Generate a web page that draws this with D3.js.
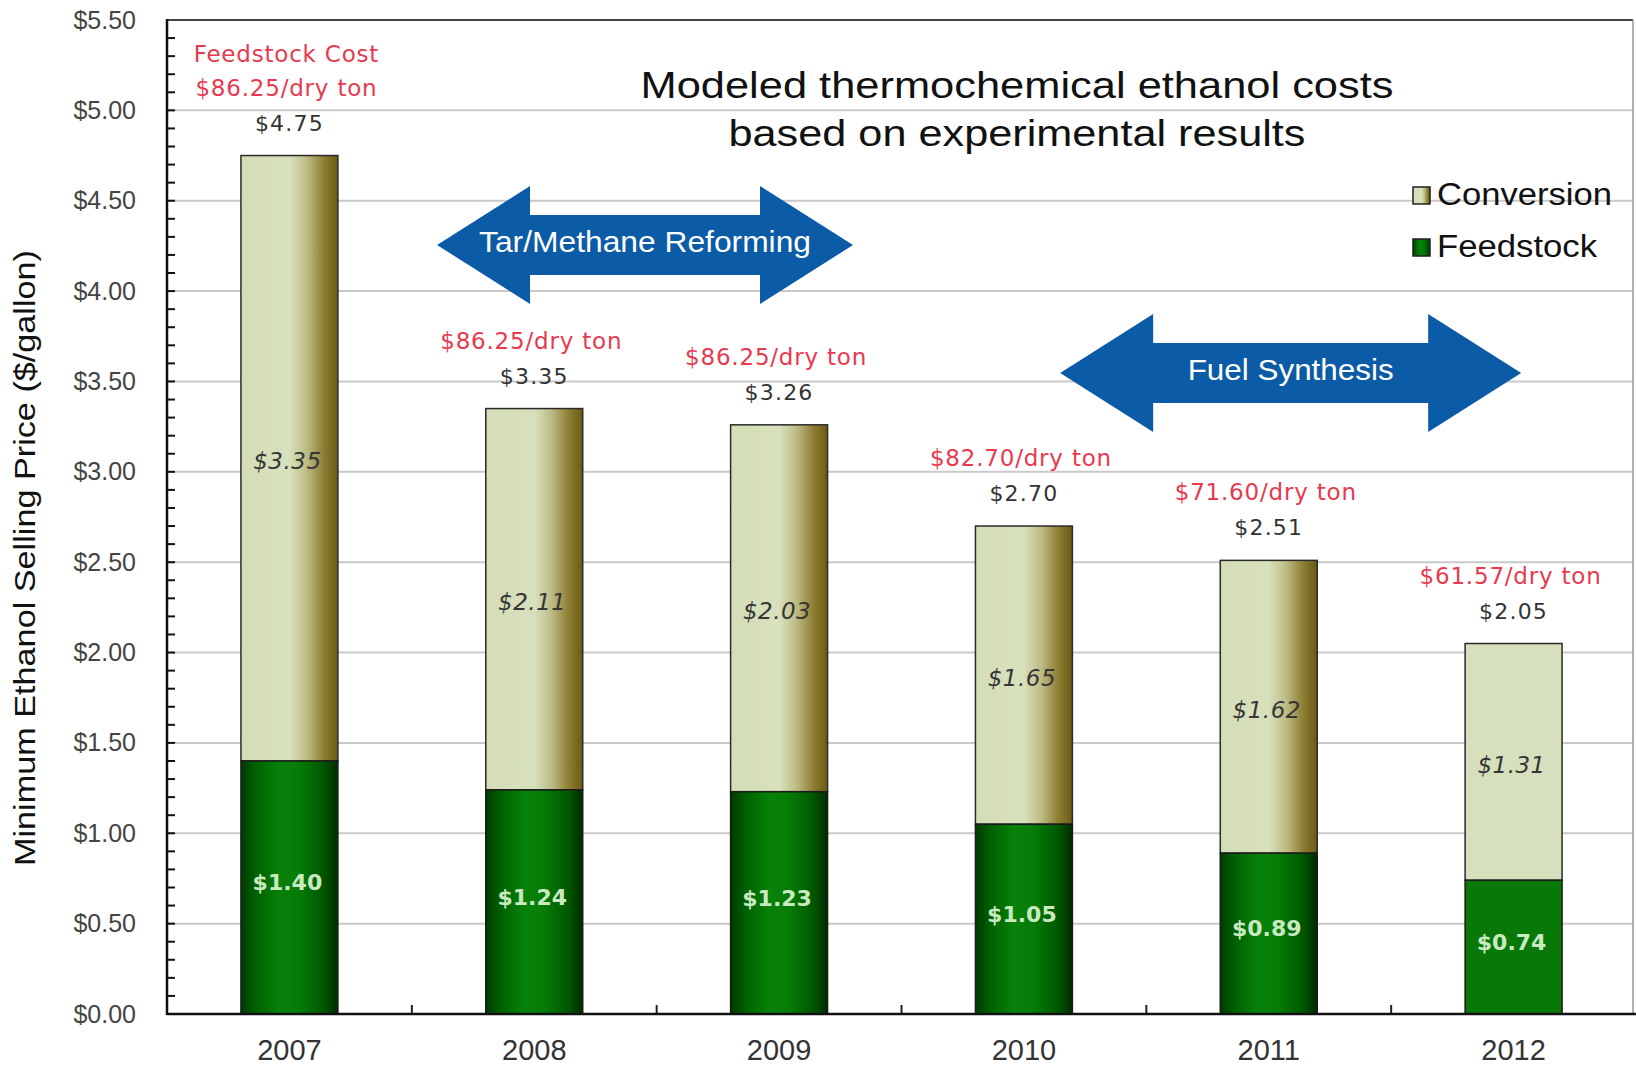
<!DOCTYPE html>
<html>
<head>
<meta charset="utf-8">
<script src="https://cdn.jsdelivr.net/npm/d3@7"></script>
<style>
	html, body { margin: 0; padding: 0; background: #ffffff; }
	svg { display: block; }
</style>
</head>
<body>
<svg id="chart"></svg>
<script>
// chart data
var years = ["2007", "2008", "2009", "2010", "2011", "2012"];
var feedstock = [1.40, 1.24, 1.23, 1.05, 0.89, 0.74];
var conversion = [3.35, 2.11, 2.03, 1.65, 1.62, 1.31];
var totals = [4.75, 3.35, 3.26, 2.70, 2.51, 2.05];
var feedCostLabels = [
	["Feedstock Cost", "$86.25/dry ton"],
	["$86.25/dry ton"],
	["$86.25/dry ton"],
	["$82.70/dry ton"],
	["$71.60/dry ton"],
	["$61.57/dry ton"]
];
var yTicks = [0, 0.5, 1.0, 1.5, 2.0, 2.5, 3.0, 3.5, 4.0, 4.5, 5.0, 5.5];
var seriesNames = ["Conversion", "Feedstock"];
var phaseNames = ["Tar/Methane Reforming", "Fuel Synthesis"];
var titleLines = ["Modeled thermochemical ethanol costs", "based on experimental results"];

/**
 * ethanol cost chart
 */
var costChartObj = {

	svg : null,
	x : null,
	xPos : null,
	y : null,

	layout : {
		width : 1636,
		height : 1065,
		left : 167,
		right : 1636,
		top : 20,
		bottom : 1014
	},

	init : function(id) {
		var that = this;
		var l = that.layout;

		that.svg = d3.select(id).attr("width", l.width).attr("height", l.height);
		that.x = d3.scaleBand().domain(years).range([l.left, l.right]).paddingInner(0.604).paddingOuter(0.302);
		// position in category units (0 .. 6) for annotations
		that.xPos = d3.scaleLinear().domain([0, years.length]).range([l.left, l.right]);
		that.y = d3.scaleLinear().domain([0, 5.5]).range([l.bottom, l.top]);
	},

	draw : function() {
		var that = this;
		that.makeGradients();
		that.drawGrid();
		that.drawBars();
		that.drawAxes();
		that.drawLabels();
		that.drawTitle();
		that.drawLegend();
		that.drawPhases();
	},

	makeGradients : function() {
		var defs = this.svg.append("defs");

		var conv = defs.append("linearGradient").attr("id", "gConv").attr("x1", "0%").attr("x2", "100%").attr("y1", "0%").attr("y2", "0%");
		[["0%", "#d3ddb6"], ["50%", "#d8e1bd"], ["68%", "#bdbb84"], ["85%", "#8f7f35"], ["100%", "#6b5a12"]].forEach(function(s) {
			conv.append("stop").attr("offset", s[0]).attr("stop-color", s[1]);
		});

		var feed = defs.append("linearGradient").attr("id", "gFeed").attr("x1", "0%").attr("x2", "100%").attr("y1", "0%").attr("y2", "0%");
		[["0%", "#003a00"], ["15%", "#006000"], ["40%", "#08820a"], ["60%", "#067c07"], ["85%", "#005800"], ["100%", "#002a00"]].forEach(function(s) {
			feed.append("stop").attr("offset", s[0]).attr("stop-color", s[1]);
		});
	},

	drawGrid : function() {
		var that = this;
		var l = that.layout;

		that.svg.append("g").selectAll("line").data(yTicks.filter(function(d) { return d > 0 && d < 5.5; }))
			.enter().append("line")
			.attr("x1", l.left).attr("x2", l.right - 3)
			.attr("y1", function(d) { return that.y(d); }).attr("y2", function(d) { return that.y(d); })
			.attr("stroke", "#c9c9c9").attr("stroke-width", 2);

		// frame top / right
		that.svg.append("line").attr("x1", l.left).attr("x2", l.right - 3).attr("y1", that.y(5.5)).attr("y2", that.y(5.5))
			.attr("stroke", "#444").attr("stroke-width", 2);
		that.svg.append("line").attr("x1", l.right - 3).attr("x2", l.right - 3).attr("y1", that.y(5.5)).attr("y2", l.bottom)
			.attr("stroke", "#999").attr("stroke-width", 1.5);
	},

	drawBars : function() {
		var that = this;
		var bw = that.x.bandwidth();
		var last = years.length - 1;

		var g = that.svg.append("g");
		years.forEach(function(yr, i) {
			var x = that.x(yr);
			var flat = (i == last);
			g.append("rect").attr("x", x).attr("width", bw)
				.attr("y", that.y(feedstock[i] + conversion[i])).attr("height", that.y(feedstock[i]) - that.y(feedstock[i] + conversion[i]))
				.attr("fill", flat ? "#d7e0bc" : "url(#gConv)").attr("stroke", "#2a2a2a").attr("stroke-width", 1.5);
			g.append("rect").attr("x", x).attr("width", bw)
				.attr("y", that.y(feedstock[i])).attr("height", that.y(0) - that.y(feedstock[i]))
				.attr("fill", flat ? "#087808" : "url(#gFeed)").attr("stroke", "#1a1a1a").attr("stroke-width", 1.5);
		});
	},

	drawAxes : function() {
		var that = this;
		var l = that.layout;

		var yAxis = d3.axisLeft(that.y).tickValues(yTicks).tickSize(0).tickPadding(0)
			.tickFormat(function(d) { return "$" + d.toFixed(2); });
		var ya = that.svg.append("g").attr("transform", "translate(" + (l.left - 31) + ",0)").call(yAxis);
		ya.select(".domain").remove();
		ya.selectAll("text").attr("font-family", "Liberation Sans, Arial").attr("font-size", 25).attr("fill", "#444");

		// minor ticks every 0.1 pointing inward
		that.svg.append("g").selectAll("line").data(d3.range(1, 55))
			.enter().append("line")
			.attr("x1", l.left).attr("x2", l.left + 8)
			.attr("y1", function(d) { return that.y(d / 10); }).attr("y2", function(d) { return that.y(d / 10); })
			.attr("stroke", "#111").attr("stroke-width", 2);

		that.svg.append("line").attr("x1", l.left).attr("x2", l.left).attr("y1", that.y(5.5) - 1).attr("y2", l.bottom + 1)
			.attr("stroke", "#111").attr("stroke-width", 2.5);

		var xAxis = d3.axisBottom(that.x).tickSize(0).tickPadding(0);
		var xa = that.svg.append("g").attr("transform", "translate(0," + (l.bottom + 46) + ")").call(xAxis);
		xa.select(".domain").remove();
		xa.selectAll("text").attr("dy", 0).attr("font-family", "Liberation Sans, Arial").attr("font-size", 29).attr("fill", "#333");

		// category boundary ticks
		that.svg.append("g").selectAll("line").data(d3.range(1, years.length))
			.enter().append("line")
			.attr("x1", function(d) { return that.xPos(d); }).attr("x2", function(d) { return that.xPos(d); })
			.attr("y1", l.bottom).attr("y2", l.bottom - 9)
			.attr("stroke", "#222").attr("stroke-width", 2);

		that.svg.append("line").attr("x1", l.left).attr("x2", l.right).attr("y1", l.bottom).attr("y2", l.bottom)
			.attr("stroke", "#111").attr("stroke-width", 2.5);

		// y title
		that.svg.append("text").attr("transform", "translate(35,558) rotate(-90)")
			.attr("text-anchor", "middle").attr("font-family", "Liberation Sans, Arial").attr("font-size", 30)
			.attr("textLength", 616).attr("lengthAdjust", "spacingAndGlyphs")
			.attr("fill", "#111").text("Minimum Ethanol Selling Price ($/gallon)");
	},

	drawLabels : function() {
		var that = this;
		var g = that.svg.append("g").attr("font-family", "DejaVu Sans, Verdana").attr("text-anchor", "middle");

		years.forEach(function(yr, i) {
			var cx = that.x(yr) + that.x.bandwidth() / 2;
			var top = that.y(totals[i]);

			// total
			g.append("text").attr("x", cx).attr("y", top - 25).attr("font-size", 22).attr("letter-spacing", 1.2)
				.attr("fill", "#333").text("$" + totals[i].toFixed(2));

			// feedstock cost (red)
			var lines = feedCostLabels[i];
			lines.forEach(function(t, k) {
				g.append("text").attr("x", cx - 3).attr("y", top - 60 - (lines.length - 1 - k) * 34)
					.attr("font-size", 23).attr("letter-spacing", 0.8).attr("fill", "#e8394f").text(t);
			});

			// conversion value (italic, inside)
			var cMid = (that.y(feedstock[i]) + that.y(totals[i])) / 2;
			g.append("text").attr("x", cx - 2).attr("y", cMid + 3).attr("dy", "0.35em").attr("font-size", 23)
				.attr("font-style", "italic").attr("letter-spacing", 0.5).attr("fill", "#363636").text("$" + conversion[i].toFixed(2));

			// feedstock value (inside)
			var fMid = (that.y(0) + that.y(feedstock[i])) / 2;
			g.append("text").attr("x", cx - 2).attr("y", fMid - 5).attr("dy", "0.35em").attr("font-size", 22)
				.attr("font-weight", "bold").attr("fill", "#c9eac0").text("$" + feedstock[i].toFixed(2));
		});
	},

	drawTitle : function() {
		var that = this;
		var widths = [753, 577];
		var base = [98, 146];
		titleLines.forEach(function(t, i) {
			that.svg.append("text").attr("x", 1017).attr("y", base[i]).attr("text-anchor", "middle")
				.attr("font-family", "Liberation Sans, Arial").attr("font-size", 37)
				.attr("textLength", widths[i]).attr("lengthAdjust", "spacingAndGlyphs")
				.attr("fill", "#111").text(t);
		});
	},

	drawLegend : function() {
		var that = this;
		var fills = ["url(#gConv)", "url(#gFeed)"];
		var widths = [175, 160];
		seriesNames.forEach(function(name, i) {
			var yb = 205 + i * 52;
			that.svg.append("rect").attr("x", 1413).attr("y", yb - 18).attr("width", 17).attr("height", 17)
				.attr("fill", fills[i]).attr("stroke", "#222").attr("stroke-width", 1.5);
			that.svg.append("text").attr("x", 1437).attr("y", yb)
				.attr("font-family", "Liberation Sans, Arial").attr("font-size", 31)
				.attr("textLength", widths[i]).attr("lengthAdjust", "spacingAndGlyphs")
				.attr("fill", "#111").text(name);
		});
	},

	/**
	 * double-headed arrows marking the development phases
	 */
	drawPhases : function() {
		var that = this;
		// from / to in category units, mid in $ units
		var spans = [[1.103, 2.802, 4.255], [3.648, 5.531, 3.547]];
		var textW = [332, 206];

		spans.forEach(function(s, i) {
			var x1 = that.xPos(s[0]);
			var x2 = that.xPos(s[1]);
			var cy = that.y(s[2]);
			var head = 93, hh = 59, sh = 30;
			var pts = [
				[x1, cy], [x1 + head, cy - hh], [x1 + head, cy - sh], [x2 - head, cy - sh], [x2 - head, cy - hh],
				[x2, cy], [x2 - head, cy + hh], [x2 - head, cy + sh], [x1 + head, cy + sh], [x1 + head, cy + hh]
			];
			that.svg.append("polygon").attr("points", pts.map(function(p) { return p.join(","); }).join(" "))
				.attr("fill", "#0b5ba7");
			that.svg.append("text").attr("x", (x1 + x2) / 2).attr("y", cy + 7).attr("text-anchor", "middle")
				.attr("font-family", "Liberation Sans, Arial").attr("font-size", 30)
				.attr("textLength", textW[i]).attr("lengthAdjust", "spacingAndGlyphs")
				.attr("fill", "#ffffff").text(phaseNames[i]);
		});
	}
};

costChartObj.init("#chart");
costChartObj.draw();
</script>
</body>
</html>
